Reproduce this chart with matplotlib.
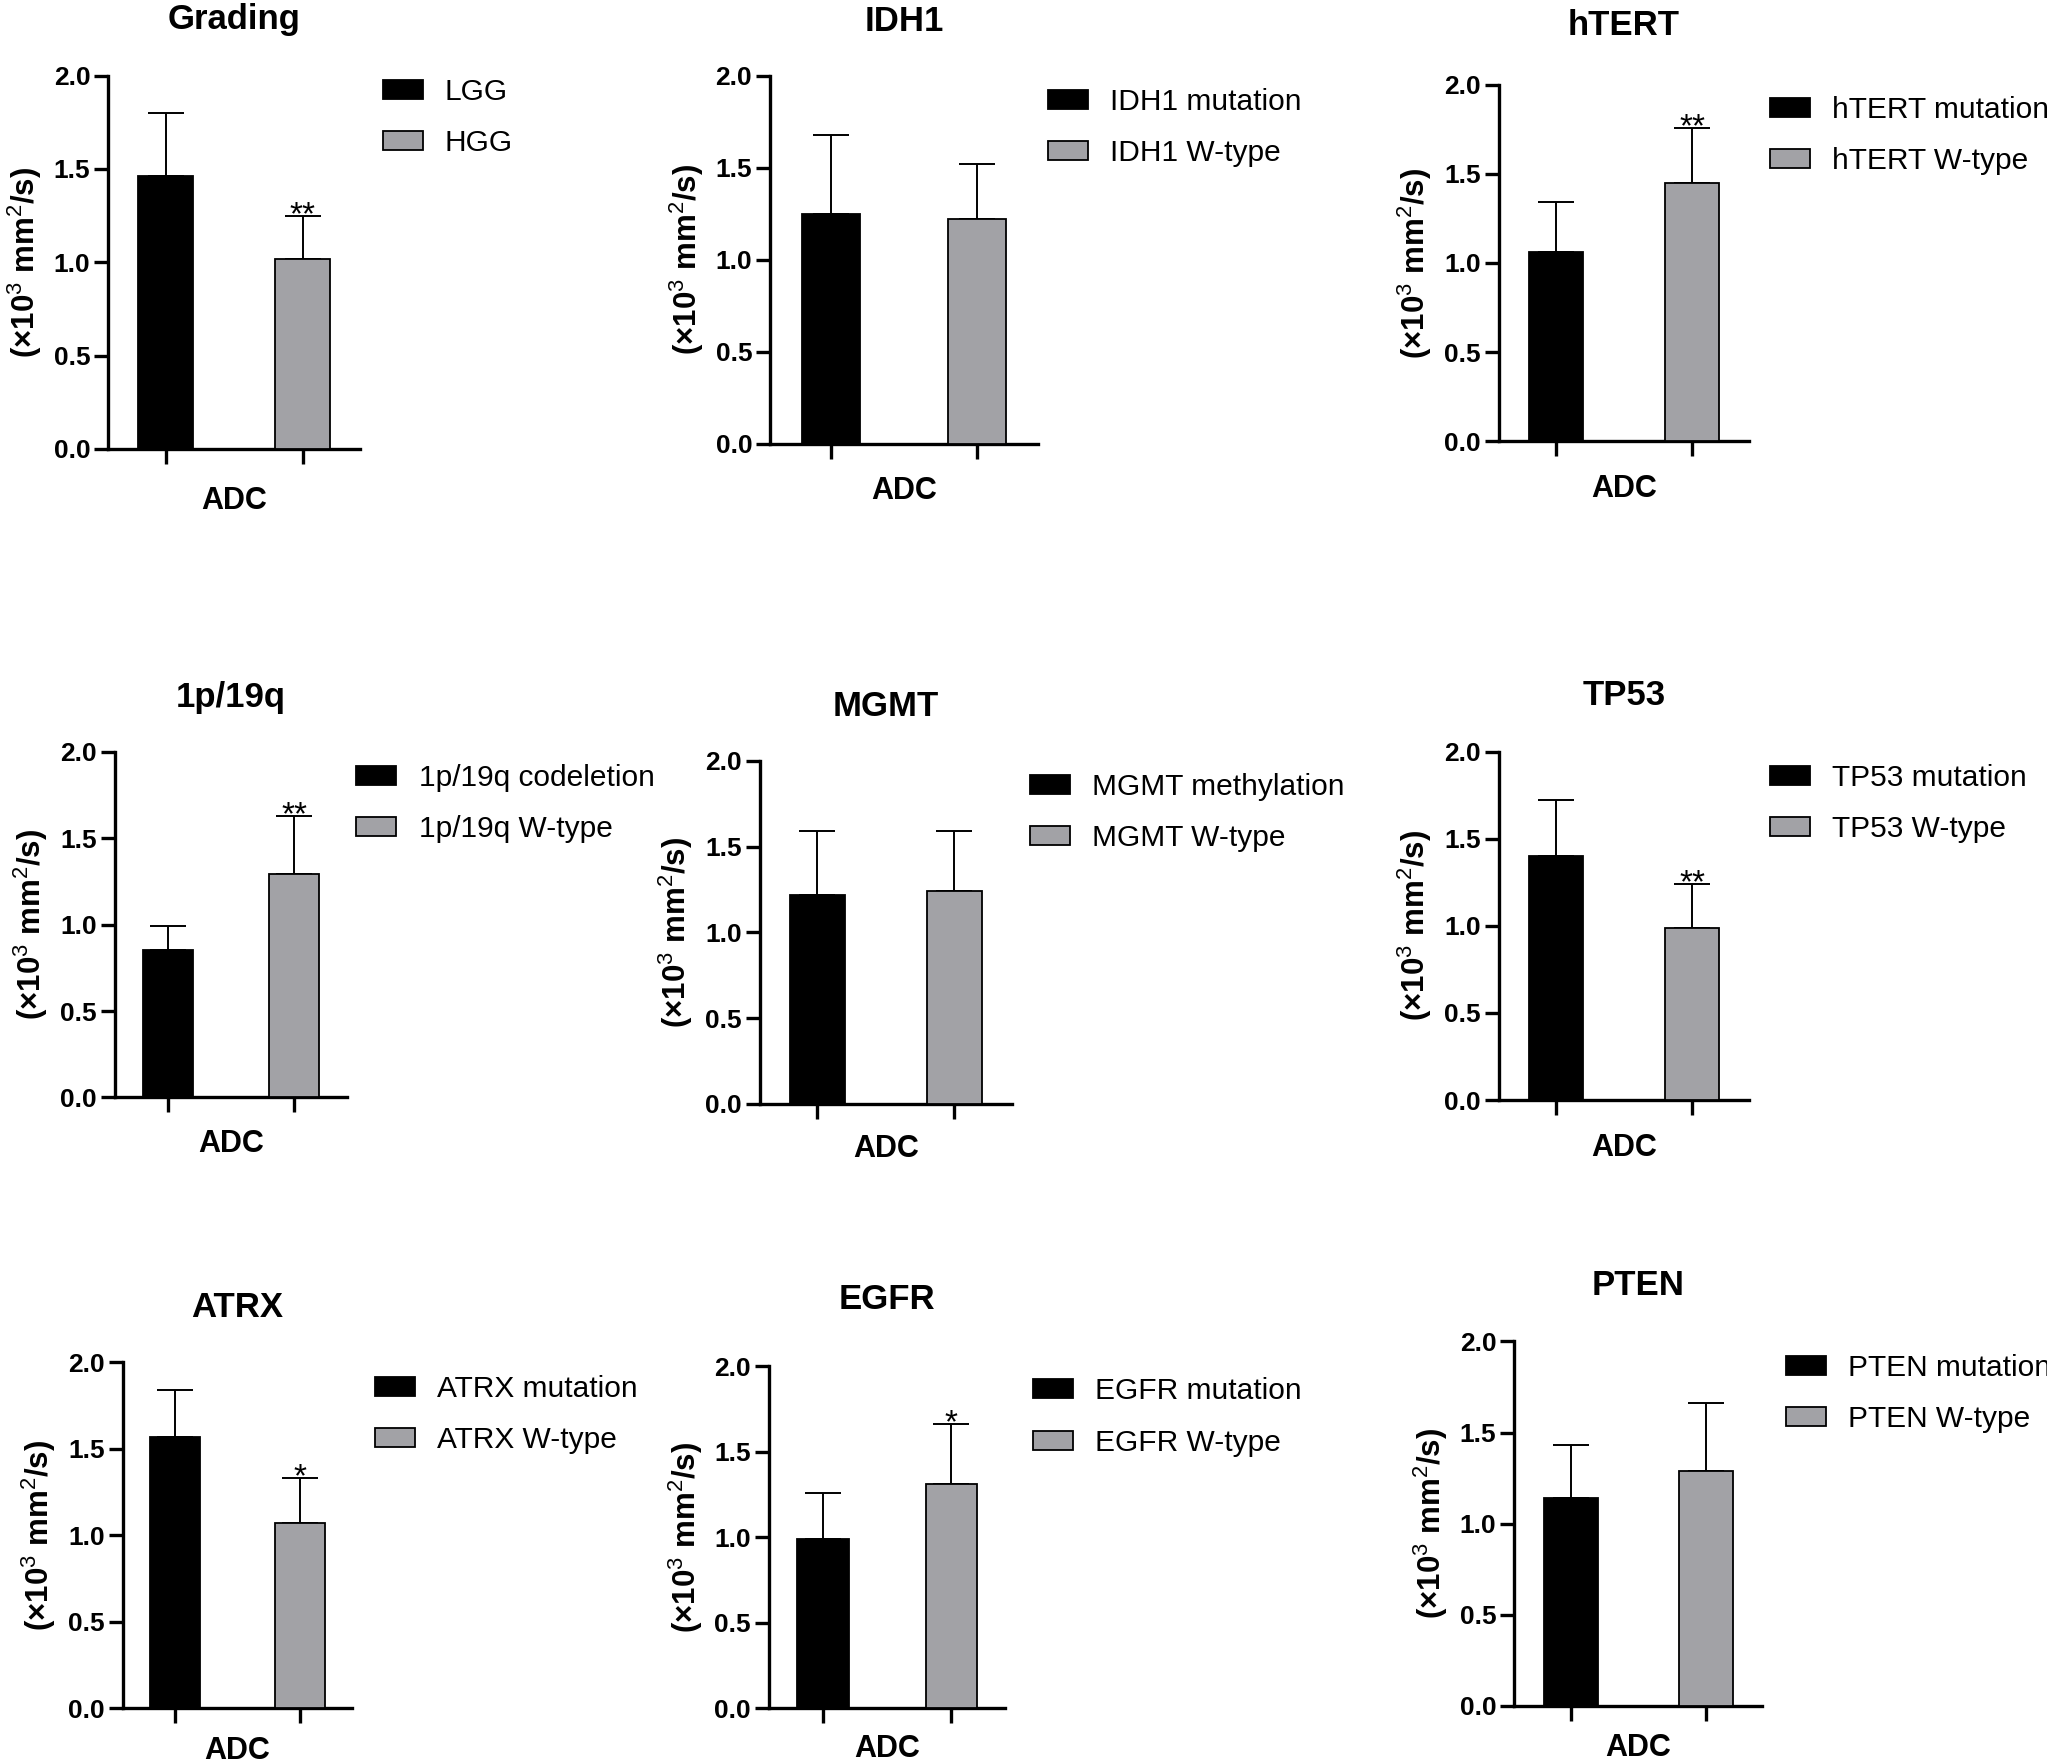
import numpy as np
import matplotlib
matplotlib.use("Agg")
import matplotlib.pyplot as plt
from matplotlib.patches import Patch

plt.rcParams['font.family'] = ['Liberation Sans', 'DejaVu Sans']
plt.rcParams['mathtext.fontset'] = 'custom'
plt.rcParams['mathtext.rm'] = 'Liberation Sans'
plt.rcParams['mathtext.bf'] = 'Liberation Sans:bold'

# ADC values (x10^3 mm^2/s): mean and SD for the two groups of each marker
titles = ['Grading', 'IDH1', 'hTERT',
          '1p/19q', 'MGMT', 'TP53',
          'ATRX', 'EGFR', 'PTEN']
legend_labels = [['LGG', 'HGG'],
                 ['IDH1 mutation', 'IDH1 W-type'],
                 ['hTERT mutation', 'hTERT W-type'],
                 ['1p/19q codeletion', '1p/19q W-type'],
                 ['MGMT methylation', 'MGMT W-type'],
                 ['TP53 mutation', 'TP53 W-type'],
                 ['ATRX mutation', 'ATRX W-type'],
                 ['EGFR mutation', 'EGFR W-type'],
                 ['PTEN mutation', 'PTEN W-type']]
means = [[1.46, 1.02], [1.25, 1.22], [1.06, 1.45],
         [0.85, 1.29], [1.22, 1.24], [1.40, 0.99],
         [1.57, 1.07], [0.99, 1.31], [1.14, 1.29]]
sds = [[0.34, 0.23], [0.43, 0.30], [0.28, 0.31],
       [0.14, 0.34], [0.37, 0.35], [0.32, 0.25],
       [0.27, 0.26], [0.27, 0.35], [0.29, 0.37]]
stars = [['', '**'], ['', ''], ['', '**'],
         ['', '**'], ['', ''], ['', '**'],
         ['', '*'], ['', '*'], ['', '']]
group_x = [0, 1]
xlabel = 'ADC'
ylabel = r'(×10$^{3}$ mm$^{2}$/s)'
colors = ['black', '#a2a2a6']

# layout in a 1568 x 1351 frame: spine x, axis right end, y of 0.0, y of 2.0,
# title gap, legend x, legend first row y, gap to "ADC"
W, H = 1568.0, 1351.0
panel_px = [(83, 276, 344, 58, 46, 293, 68, 37),
            (590, 795, 340, 58, 44, 803, 76, 34),
            (1148, 1340, 338, 65, 48, 1356, 82, 34),
            (88, 266, 841, 576, 44, 273, 594, 33),
            (582, 775, 846, 583, 44, 789, 601, 32),
            (1148, 1340, 843, 576, 46, 1356, 594, 34),
            (94, 270, 1309, 1044, 45, 287, 1062, 30),
            (589, 770, 1309, 1047, 54, 791, 1064, 29),
            (1160, 1350, 1307, 1028, 46, 1368, 1046, 30)]

fig = plt.figure(figsize=(20.47, 17.63), dpi=100)
px2pt = 1.3055 * 72 / 100

for i in range(9):
    L, R, y0, y2, tgap, lx, ly, xgap = panel_px[i]
    ax = fig.add_axes([L / W, 1 - y0 / H, (R - L) / W, (y0 - y2) / H])

    ax.bar(group_x, means[i], width=0.4, color=colors,
           edgecolor='black', linewidth=1.3, zorder=3)
    ax.errorbar(group_x, means[i], yerr=[np.zeros(2), sds[i]], fmt='none',
                ecolor='black', elinewidth=1.4, capsize=13, capthick=1.4,
                zorder=2)
    for x, m, s, st in zip(group_x, means[i], sds[i], stars[i]):
        if st:
            ax.annotate(st, (x, m + s), xytext=(0, -6), textcoords='offset points',
                        ha='center', va='baseline', fontsize=24)

    ax.set_xlim(-0.42, 1.42)
    ax.set_ylim(0, 2.0)
    ax.set_yticks([0.0, 0.5, 1.0, 1.5, 2.0])
    ax.set_yticklabels(['0.0', '0.5', '1.0', '1.5', '2.0'],
                       fontsize=19, fontweight='bold')
    ax.set_xticks(group_x)
    ax.set_xticklabels(['', ''])
    for sp in ['top', 'right']:
        ax.spines[sp].set_visible(False)
    for sp in ['left', 'bottom']:
        ax.spines[sp].set_linewidth(2.4)
    ax.tick_params(axis='y', direction='out', length=10, width=2.4, pad=3)
    ax.tick_params(axis='x', direction='out', length=11, width=2.4)

    ax.set_xlabel(xlabel, fontsize=22, fontweight='bold',
                  labelpad=10 + (xgap - 35) * px2pt)
    ax.set_ylabel(ylabel, fontsize=22.5, fontweight='bold', labelpad=7)
    ax.set_title(titles[i], fontsize=25, fontweight='bold', pad=(tgap - 10) * px2pt)

    handles = [Patch(facecolor=c, edgecolor='black', linewidth=1.3) for c in colors]
    fig.legend(handles, legend_labels[i], loc='upper left',
               bbox_to_anchor=(lx / W, 1 - (ly - 8.5) / H),
               frameon=False, fontsize=21.5, borderpad=0, borderaxespad=0,
               handlelength=1.34, handleheight=0.6, handletextpad=0.74,
               labelspacing=0.78)

fig.savefig('out.png', dpi=100, facecolor='white')
